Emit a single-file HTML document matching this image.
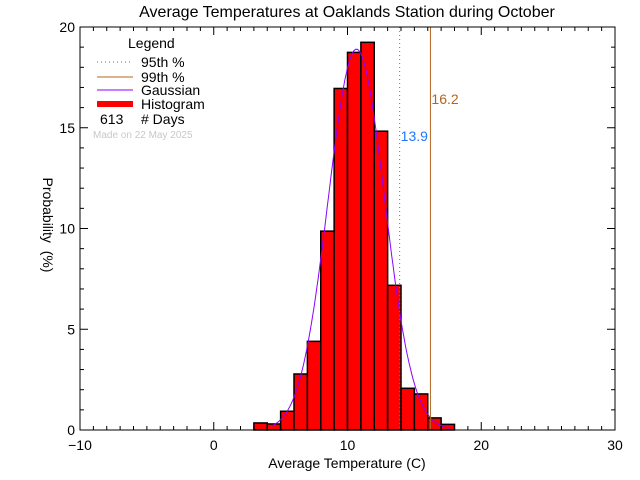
<!DOCTYPE html>
<html><head><meta charset="utf-8"><style>
body{margin:0;background:#fff}
svg{display:block;font-family:"Liberation Sans",sans-serif}
</style></head><body>
<svg id="chart" width="640" height="480" viewBox="0 0 640 480">
<text x="347" y="17" font-size="16" text-anchor="middle">Average Temperatures at Oaklands Station during October</text>
<g id="bars"></g>
<g id="gauss"></g>
<g id="pct"></g>
<g id="axes"></g>
<text x="347" y="468" font-size="14" text-anchor="middle">Average Temperature (C)</text>
<text transform="translate(43,225) rotate(90)" font-size="14" text-anchor="middle">Probability&#160;&#160;(%)</text>
<g font-size="14">
<text x="128" y="48">Legend</text>
<line x1="97" y1="62" x2="133" y2="62" stroke="#1e78ff" stroke-dasharray="1,3"/>
<text x="141" y="67">95th %</text>
<line x1="97" y1="77" x2="133" y2="77" stroke="#b4641e"/>
<text x="141" y="82">99th %</text>
<line x1="97" y1="90" x2="133" y2="90" stroke="#8c00ff"/>
<text x="141" y="95">Gaussian</text>
<rect x="97" y="101" width="36" height="6" fill="#f00"/>
<text x="141" y="109">Histogram</text>
<text x="100" y="124">613</text>
<text x="141" y="124"># Days</text>
<text x="93" y="138" font-size="10" fill="#c8c8c8">Made on 22 May 2025</text>
</g>
</svg>
<script>
const binStarts=[3,4,5,6,7,8,9,10,11,12,13,14,15,16,17];
const binValues=[0.35,0.3,0.93,2.78,4.4,9.87,16.95,18.74,19.24,14.83,7.18,2.07,1.79,0.6,0.28];
const gaussMean=10.67, gaussSigma=2.11, gaussPeak=18.9;
const p95=13.9, p99=16.2;
const xTicks=[-10,0,10,20,30];
const yTicks=[0,5,10,15,20];
const L=80,R=615,T=27,B=430;
const X=v=>L+(v+10)/40*(R-L);
const Y=v=>B-v/20*(B-T);
const NS="http://www.w3.org/2000/svg";
function mk(t,a,p){const e=document.createElementNS(NS,t);for(const k in a)e.setAttribute(k,a[k]);p.appendChild(e);return e;}
const bars=document.getElementById('bars');
binStarts.forEach((s,i)=>{
 const r=mk('rect',{x:X(s),y:Y(binValues[i]),width:X(s+1)-X(s),height:B-Y(binValues[i]),fill:'#f00',stroke:'#000','stroke-width':1.5},bars);
 
 
});
let d='';
for(let x=4.3;x<=17.6;x+=0.1){const v=gaussPeak*Math.exp(-0.5*((x-gaussMean)/gaussSigma)**2);d+=(d?'L':'M')+X(x).toFixed(1)+','+Y(v).toFixed(1);}
const gp=mk('path',{d:d,fill:'none',stroke:'#8c00ff','stroke-width':1},document.getElementById('gauss'));


const pct=document.getElementById('pct');
const l95=mk('line',{x1:X(p95),x2:X(p95),y1:T,y2:B,stroke:'#b4641e','stroke-dasharray':'1,3'},pct);


const t95=mk('text',{x:X(p95)+1,y:141,fill:'#1e78ff','font-size':14},pct);t95.textContent=p95.toFixed(1);


const l99=mk('line',{x1:X(p99),x2:X(p99),y1:T,y2:B,stroke:'#b4641e'},pct);


const t99=mk('text',{x:X(p99)+1,y:104,fill:'#b4641e','font-size':14},pct);t99.textContent=p99.toFixed(1);


const ax=document.getElementById('axes');
const box=mk('rect',{x:L,y:T,width:R-L,height:B-T,fill:'none',stroke:'#000'},ax);


for(let v=-10;v<=30;v++){const len=v%10===0?8:4;
 mk('line',{x1:X(v),x2:X(v),y1:B,y2:B-len,stroke:'#000'},ax);
 mk('line',{x1:X(v),x2:X(v),y1:T,y2:T+len,stroke:'#000'},ax);}
for(let v=0;v<=20;v++){const len=v%5===0?8:4;
 mk('line',{x1:L,x2:L+len,y1:Y(v),y2:Y(v),stroke:'#000'},ax);
 mk('line',{x1:R,x2:R-len,y1:Y(v),y2:Y(v),stroke:'#000'},ax);}
xTicks.forEach(v=>{const t=mk('text',{x:X(v),y:450,'font-size':14,'text-anchor':'middle'},ax);t.textContent=v<0?'\u2212'+(-v):v;
 
 });
yTicks.forEach(v=>{const t=mk('text',{x:L-5,y:Y(v)+5,'font-size':14,'text-anchor':'end'},ax);t.textContent=v;
 
 });
</script>
</body></html>
